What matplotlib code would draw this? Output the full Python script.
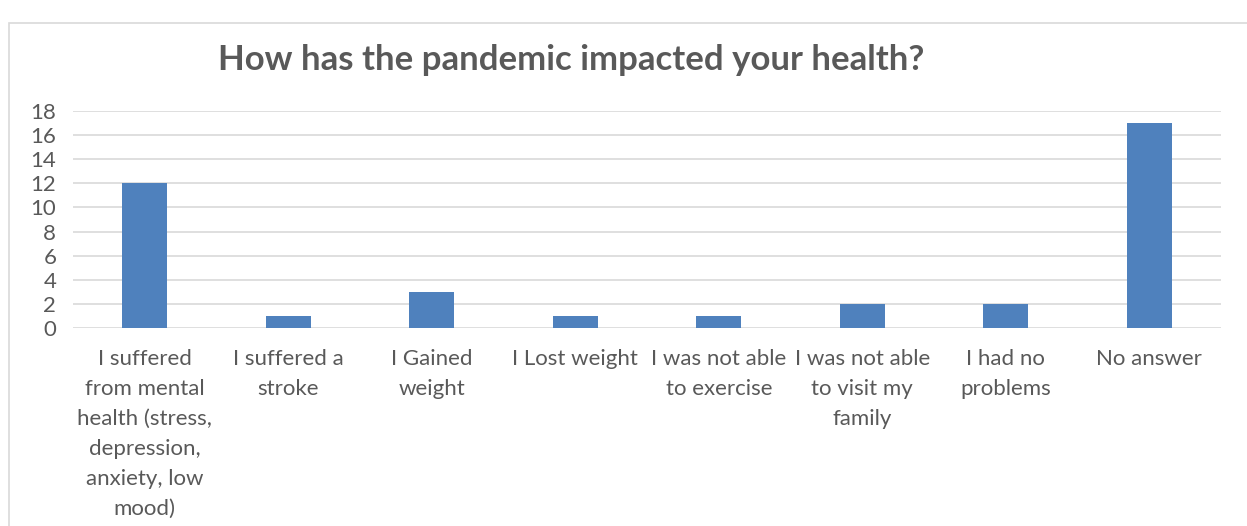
import numpy as np
import matplotlib.pyplot as plt
from matplotlib.patches import Rectangle

plt.rcParams['font.family'] = ['Lato', 'DejaVu Sans']

categories = ['I suffered\nfrom mental\nhealth (stress,\ndepression,\nanxiety, low\nmood)',
              'I suffered a\nstroke',
              'I Gained\nweight',
              'I Lost weight',
              'I was not able\nto exercise',
              'I was not able\nto visit my\nfamily',
              'I had no\nproblems',
              'No answer']
values = [12, 1, 3, 1, 1, 2, 2, 17]
yticks = list(range(0, 20, 2))

txt = '#595959'
fig = plt.figure(figsize=(12.47, 5.26), dpi=100)
ax = fig.add_axes([73/1247, 1-328/526, (1221-73)/1247, (328-111)/526])

x = np.arange(len(values))
ax.bar(x, values, width=0.315, color='#4F81BD', zorder=3)
ax.set_xlim(-0.5, len(values)-0.5)
ax.set_ylim(0, 18)
ax.set_yticks(yticks)
ax.grid(axis='y', color='#D9D9D9', linewidth=1.2, zorder=0)
for s in ax.spines.values():
    s.set_visible(False)
ax.tick_params(axis='both', length=0, labelsize=16, colors=txt)
ax.tick_params(axis='y', pad=12)
ax.set_xticks(x)
ax.set_xticklabels(categories, linespacing=1.63, ha='center', va='top')
ax.tick_params(axis='x', pad=15)

fig.text(571/1247, 1-60/526, 'How has the pandemic impacted your health?',
         ha='center', va='center', fontsize=25, fontweight='bold', color=txt)

# outer frame of the chart area
fig.add_artist(Rectangle((9/1247, -0.01), 1.02, 1-0.01-12/526, transform=fig.transFigure,
                         fill=False, edgecolor='#D9D9D9', linewidth=1.2))

fig.savefig('out.png', dpi=100)
